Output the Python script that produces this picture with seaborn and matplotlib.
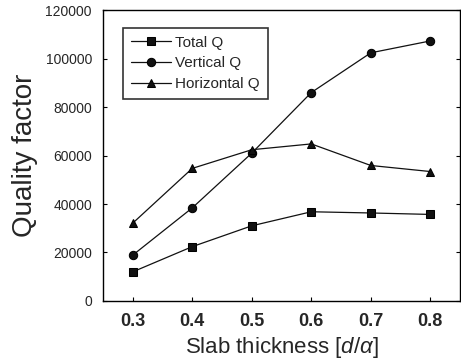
import pandas as pd
import seaborn as sns
import matplotlib.pyplot as plt

thickness = [0.3, 0.4, 0.5, 0.6, 0.7, 0.8]
total_q = [12000, 22400, 31000, 36800, 36300, 35700]
vertical_q = [18900, 38400, 61000, 86000, 102400, 107300]
horizontal_q = [32100, 54700, 62400, 64800, 55900, 53400]
series_names = ["Total Q", "Vertical Q", "Horizontal Q"]

df = pd.DataFrame({
    "x": thickness * 3,
    "Q": total_q + vertical_q + horizontal_q,
    "series": [s for s in series_names for _ in thickness],
})

sns.set_style("ticks")
plt.rcParams['font.family'] = ['Liberation Sans', 'DejaVu Sans']
plt.rcParams['mathtext.fontset'] = 'custom'
plt.rcParams['mathtext.rm'] = 'Liberation Sans'
plt.rcParams['mathtext.it'] = 'Liberation Sans:italic'

fig = plt.figure(figsize=(4.61, 3.63), dpi=100)
ax = fig.add_axes([0.2234, 0.171, 0.7746, 0.801])

sns.lineplot(data=df, x="x", y="Q", hue="series", style="series",
             palette=["#111111"] * 3, markers=["s", "o", "^"], dashes=False,
             markersize=6, markeredgecolor="black", linewidth=0.9, ax=ax)

ax.set_xlim(0.25, 0.85)
ax.set_ylim(0, 120000)
ax.set_xticks(thickness)
ax.set_xticklabels(["0.3", "0.4", "0.5", "0.6", "0.7", "0.8"], fontsize=13, fontweight="bold")
ax.set_yticks(range(0, 120001, 20000))
ax.tick_params(axis="y", labelsize=10, pad=8)
ax.tick_params(axis="x", pad=9)
ax.tick_params(direction="in", length=3, width=0.8, top=False, right=True, color="black")
for sp in ax.spines.values():
    sp.set_visible(True)
    sp.set_color("black")
    sp.set_linewidth(1)

ax.set_xlabel(r"Slab thickness [$d$/$\alpha$]", fontsize=16, labelpad=3)
ax.set_ylabel("Quality factor", fontsize=20, labelpad=5)

leg = ax.legend(loc="upper left", bbox_to_anchor=(0.036, 0.965), fontsize=11,
                frameon=True, fancybox=False, edgecolor="black",
                handlelength=2.6, borderpad=0.5, labelspacing=0.45, handletextpad=0.3)
leg.get_frame().set_linewidth(1.2)

fig.savefig("out.png", dpi=100)
